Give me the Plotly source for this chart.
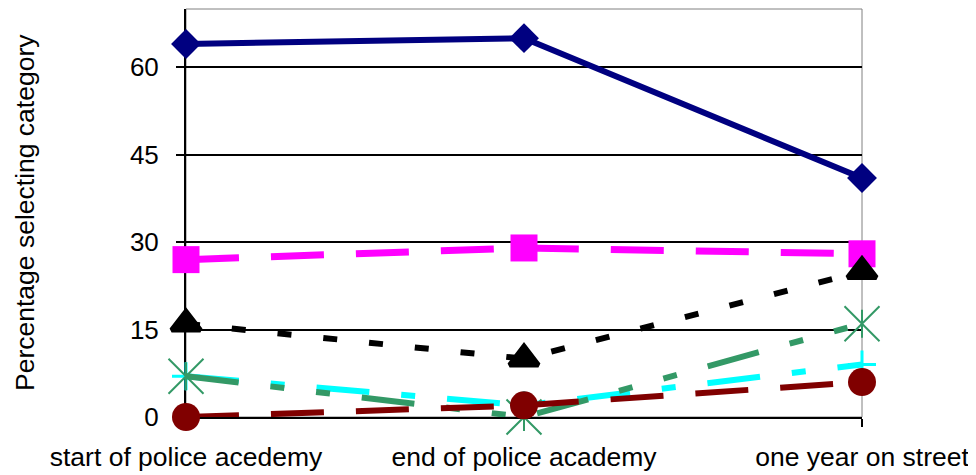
import plotly.graph_objects as go

categories = ["start of police acedemy", "end of police academy", "one year on street"]
navy_vals = [64, 65, 41]
magenta_vals = [27, 29, 28]
black_vals = [16, 10, 25]
cyan_vals = [7, 2, 9]
green_vals = [7, 0, 16]
darkred_vals = [0, 2, 6]
y_ticks = [0, 15, 30, 45, 60]
y_title = "Percentage selecting category"

FONT = "Liberation Sans, Arial, sans-serif"

fig = go.Figure()

def add(vals, color, width, dash, symbol, size, mline=0):
    fig.add_trace(go.Scatter(
        x=categories, y=vals, mode="lines+markers", cliponaxis=False,
        line=dict(color=color, width=width, dash=dash),
        marker=dict(symbol=symbol, size=size, color=color,
                    line=dict(width=mline, color=color)),
        showlegend=False, hoverinfo="skip"))

add(navy_vals, "#000080", 6, "solid", "diamond", 23)
add(magenta_vals, "#FF00FF", 7, "53px,32px", "square", 27)
add(black_vals, "#000000", 6, "14px,32px", "triangle-up", 25, mline=5)
add(cyan_vals, "#00FFFF", 6, "53px,32px,14px,32px", "cross-thin-open", 20, mline=3)
add(green_vals, "#339966", 6, "53px,32px,14px,32px,14px,32px", "x-thin-open", 35, mline=2)
fig.add_trace(go.Scatter(
    x=categories, y=green_vals, mode="markers", cliponaxis=False,
    marker=dict(symbol="line-ns-open", size=20, color="#339966",
                line=dict(width=2, color="#339966")),
    showlegend=False, hoverinfo="skip"))
add(darkred_vals, "#800000", 6, "53px,32px", "circle", 28)

# page body has an 8px margin, so the figure is sized to fit the 976x475 window
L, R, T, B = 178, 114, 1, 58
fig.update_layout(
    width=968, height=467,
    margin=dict(l=L, r=R, t=T, b=B),
    paper_bgcolor="white", plot_bgcolor="white",
    font=dict(family=FONT, size=26, color="black"),
    shapes=[dict(type="rect", xref="paper", yref="paper", x0=0, x1=1, y0=0, y1=1,
                 line=dict(color="#808080", width=1), layer="below")],
    annotations=[dict(text=y_title, textangle=-90, xref="paper", yref="paper",
                      x=(17 - L) / 676, y=0.5, xanchor="center", yanchor="middle",
                      showarrow=False, font=dict(size=26.5, family=FONT, color="black"))],
)
fig.update_xaxes(
    type="category", range=[0, 2], showgrid=False, showline=True, automargin=False,
    linecolor="black", linewidth=2, ticks="outside", ticklen=8, tickwidth=2,
    tickcolor="black", layer="below traces", zeroline=False,
    ticklabelstandoff=7, tickfont=dict(size=26.5),
)
fig.update_yaxes(
    range=[0, 70], tickvals=y_ticks, showgrid=True, gridcolor="black", gridwidth=2,
    showline=True, linecolor="black", linewidth=2, ticks="outside", ticklen=8,
    tickwidth=2, tickcolor="black", layer="below traces", zeroline=False, automargin=False,
    ticklabelstandoff=12,
)

fig.write_html("out.html")
